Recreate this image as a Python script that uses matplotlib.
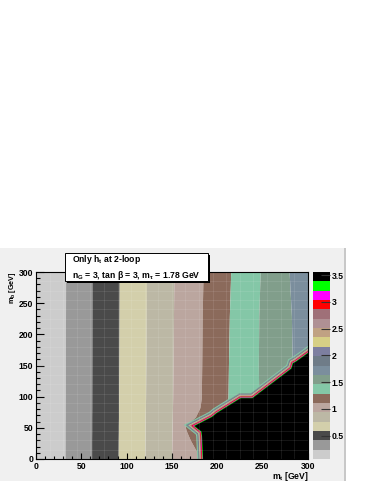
import numpy as np
import matplotlib
matplotlib.use("Agg")
import matplotlib.pyplot as plt
from matplotlib.patches import Rectangle, Polygon
from matplotlib.ticker import MultipleLocator

# ---------------- data ----------------
z_min, z_max = 0.067, 3.556
palette = ["#cccccc", "#999999", "#4a4a4a", "#d3cfab", "#bcb8a5",
           "#bba69f", "#8b6a5b", "#84c7a7", "#819e8b", "#7b8e9d",
           "#6f7c88", "#7d7fa0", "#d6cf86", "#c0a283", "#af9094",
           "#9f7078", "#ff0000", "#ff00ff", "#00ff00", "#000000"]
cbar_ticks = [0.5, 1.0, 1.5, 2.0, 2.5, 3.0, 3.5]
cbar_ticklabels = ["0.5", "1", "1.5", "2", "2.5", "3", "3.5"]

# band boundaries (m_t in GeV) along rows of m_b
mb_rows = [0, 30, 45, 53, 67.5, 82.5, 97.5, 150, 230, 300]
edge1 = [32.0, 32.1, 32.1, 32.1, 32.2, 32.2, 32.3, 32.4, 32.6, 32.7]
edge2 = [61.4, 61.4, 61.5, 61.5, 61.5, 61.6, 61.6, 61.7, 61.8, 61.8]
edge3 = [90.8, 90.9, 91.0, 91.0, 91.1, 91.2, 91.3, 91.5, 91.7, 91.9]
edge4 = [120.2, 120.4, 120.5, 120.5, 120.6, 120.8, 121.0, 121.3, 121.7, 122.0]
edge5 = [149.7, 150.0, 150.2, 150.3, 150.5, 150.7, 150.9, 151.3, 151.8, 152.3]
edge6 = [182.0, 170.5, 166.0, 164.5, 176.0, 181.0, 182.5, 183.0, 183.5, 184.5]
edge7 = [200.0, 200.0, 200.0, 200.0, 203.0, 208.0, 212.0, 212.5, 213.5, 215.0]
edge8 = [250.0, 250.0, 250.0, 250.0, 250.0, 250.0, 246.0, 245.5, 246.0, 247.5]
edge9 = [285.0, 285.0, 285.0, 285.0, 285.0, 285.0, 285.0, 283.0, 282.0, 279.5]

# boundary of the black (highest) region
wall_mt = [184.5, 183.3, 182.7, 175.0, 194.5, 199.5, 226.0, 239.0, 282.0, 283.8, 287.5, 300.0]
wall_mb = [0.0, 37.5, 44.0, 53.0, 67.5, 73.5, 97.5, 97.5, 145.0, 153.5, 156.5, 169.5]

x_ticks = [0, 50, 100, 150, 200, 250, 300]
y_ticks = [0, 50, 100, 150, 200, 250, 300]

# ---------------- style ----------------
plt.rcParams['font.family'] = ['Liberation Sans', 'DejaVu Sans']
plt.rcParams['font.weight'] = 'bold'
plt.rcParams['mathtext.fontset'] = 'custom'
plt.rcParams['mathtext.rm'] = 'Liberation Sans:bold'
plt.rcParams['mathtext.it'] = 'Liberation Sans:bold'
plt.rcParams['mathtext.bf'] = 'Liberation Sans:bold'

W, H = 374, 484
DPI = 100
fig = plt.figure(figsize=(W / DPI, H / DPI), dpi=DPI)
fig.patch.set_facecolor('white')

def fx(px):
    return px / W

def fy(py):
    return 1 - py / H

# pad background
fig.patches.append(Rectangle((fx(0), fy(481)), fx(345), fy(248) - fy(481),
                             transform=fig.transFigure, facecolor='#f0f0f0',
                             edgecolor='none', zorder=-2))
fig.patches.append(Rectangle((fx(344), fy(481)), fx(2), fy(248) - fy(481),
                             transform=fig.transFigure, facecolor='#c8c8c8',
                             edgecolor='none', zorder=-2))

# main axes
left, right, top, bottom = 36, 307.7, 272, 459
ax = fig.add_axes([fx(left), fy(bottom), fx(right) - fx(left), fy(top) - fy(bottom)])
ax.set_xlim(0, 300)
ax.set_ylim(0, 300)
ax.set_zorder(1)

levels = np.linspace(z_min, z_max, len(palette) + 1)
edges = [edge1, edge2, edge3, edge4, edge5, edge6, edge7, edge8, edge9]
bounds = [[-5] * len(mb_rows)] + edges + [[305] * len(mb_rows)]
for k in range(len(bounds) - 1):
    ax.fill_betweenx(mb_rows, bounds[k], bounds[k + 1], color=palette[k],
                     linewidth=0, zorder=1)

# steep rise along the boundary of the black region
vis_px = [0.9, 0.45, 0.45, 0.35, 0.35, 0.4, 0.4, 0.5, 0.45, 0.55, 0.45, 0.6]
strip_bins = list(range(7, 19))
for i, b in enumerate(strip_bins):
    lw_px = 2 * sum(vis_px[i:])
    ax.plot(wall_mt, wall_mb, color=palette[b], lw=lw_px * 72 / DPI,
            solid_capstyle='projecting', solid_joinstyle='miter', zorder=2)

poly = list(zip(wall_mt, wall_mb)) + [(305, wall_mb[-1]), (305, -5), (wall_mt[0], -5)]
ax.add_patch(Polygon(poly, closed=True, facecolor=palette[-1], edgecolor='none', zorder=3))

# faint cell seams
for v in np.arange(15, 300, 15):
    ax.axvline(v, color='white', alpha=0.10, lw=0.6, zorder=4)
    ax.axhline(v, color='white', alpha=0.10, lw=0.6, zorder=4)

ax.set_xticks(x_ticks)
ax.set_yticks(y_ticks)
ax.xaxis.set_minor_locator(MultipleLocator(10))
ax.yaxis.set_minor_locator(MultipleLocator(10))
ax.tick_params(axis='x', which='major', direction='in', length=4.0, width=0.8,
               labelsize=6.2, pad=2)
ax.tick_params(axis='x', which='minor', direction='in', length=2.0, width=0.8)
ax.tick_params(axis='y', which='major', direction='in', length=5.8, width=0.8,
               labelsize=6.2, pad=2)
ax.tick_params(axis='y', which='minor', direction='in', length=2.9, width=0.8)
ax.tick_params(top=False, right=False, which='both')
for sp in ax.spines.values():
    sp.set_linewidth(0.8)
    sp.set_zorder(6)

fig.text(fx(309), fy(476.5), r"m$_{\mathrm{t}}$ [GeV]", ha='right', va='center', fontsize=6.2)
fig.text(fx(12), fy(271), r"m$_{\mathrm{b}}$ [GeV]", ha='center', va='top',
         rotation=90, fontsize=5.2)

# colour bar
cax = fig.add_axes([fx(313), fy(bottom), fx(330) - fx(313), fy(top) - fy(bottom)])
cax.set_zorder(1)
for k in range(len(palette)):
    cax.bar(0.5, levels[k + 1] - levels[k], bottom=levels[k], width=1.0,
            color=palette[k], linewidth=0)
cax.set_xlim(0, 1)
cax.set_ylim(z_min, z_max)
cax.set_xticks([])
cax.yaxis.tick_right()
cax.set_yticks(cbar_ticks)
cax.set_yticklabels(cbar_ticklabels)
cax.tick_params(axis='y', direction='in', length=6.5, width=0.8, color='#333333',
                labelsize=6.2, pad=1)
for sp in cax.spines.values():
    sp.set_visible(False)

# text box
bx0, by0, bx1, by1 = 65, 253, 207.7, 280.7
fig.patches.append(Rectangle((fx(bx0 + 2), fy(by1 + 2)), fx(bx1) - fx(bx0), fy(by0) - fy(by1),
                             transform=fig.transFigure, facecolor='black',
                             edgecolor='none', zorder=10))
fig.patches.append(Rectangle((fx(bx0), fy(by1)), fx(bx1) - fx(bx0), fy(by0) - fy(by1),
                             transform=fig.transFigure, facecolor='white',
                             edgecolor='black', linewidth=0.7, zorder=11))
fig.text(fx(72), fy(260), r"Only h$_{\mathrm{t}}$ at 2-loop", ha='left', va='center',
         fontsize=6.2, zorder=12)
fig.text(fx(72), fy(276), r"n$_{\mathrm{G}}$ = 3, tan β = 3, m$_{\mathrm{τ}}$ = 1.78 GeV",
         ha='left', va='center', fontsize=6.2, zorder=12)

fig.savefig("out.png", dpi=DPI)
